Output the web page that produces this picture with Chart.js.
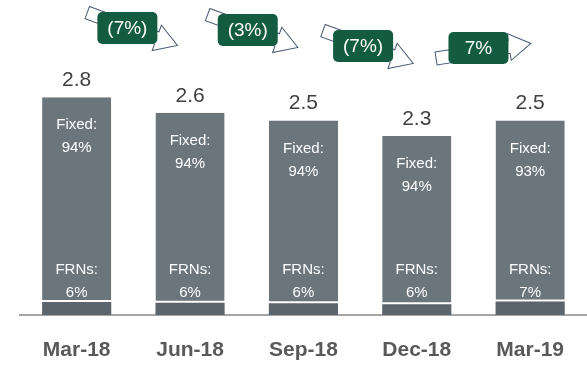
<!DOCTYPE html>
<html>
<head>
<meta charset="utf-8">
<script src="https://cdn.jsdelivr.net/npm/chart.js@4"></script>
<style>
  body { margin: 0; background: #fff; }
  #wrap { width: 587px; height: 365px; position: relative; }
</style>
</head>
<body>
<div id="wrap"><canvas id="debtChart"></canvas></div>
<script>
// quarter ends and total debt (bn)
const quarters = ['Mar-18', 'Jun-18', 'Sep-18', 'Dec-18', 'Mar-19'];
const totals = [2.8, 2.6, 2.5, 2.3, 2.5];
const fixedPct = [94, 94, 94, 94, 93];
const frnPct = [6, 6, 6, 6, 7];
// quarter on quarter change, shown between the bars
const changes = [-7, -3, -7, 7];

const frnValues = totals.map((t, i) => t * frnPct[i] / 100);
const fixedValues = totals.map((t, i) => t * fixedPct[i] / 100);

const FONT = '"Liberation Sans", Arial, sans-serif';

function roundRect(ctx, x, y, w, h, r) {
  ctx.beginPath();
  ctx.moveTo(x + r, y);
  ctx.arcTo(x + w, y, x + w, y + h, r);
  ctx.arcTo(x + w, y + h, x, y + h, r);
  ctx.arcTo(x, y + h, x, y, r);
  ctx.arcTo(x, y, x + w, y, r);
  ctx.closePath();
}

// outlined block arrow centred on (0,0), pointing right
function blockArrow(ctx, len, shaft, head, headLen) {
  const h = len / 2;
  ctx.beginPath();
  ctx.moveTo(-h, -shaft / 2);
  ctx.lineTo(h - headLen, -shaft / 2);
  ctx.lineTo(h - headLen, -head / 2);
  ctx.lineTo(h, 0);
  ctx.lineTo(h - headLen, head / 2);
  ctx.lineTo(h - headLen, shaft / 2);
  ctx.lineTo(-h, shaft / 2);
  ctx.closePath();
}

const labelsPlugin = {
  id: 'barLabels',
  afterDatasetsDraw(chart) {
    const ctx = chart.ctx;
    const fixedMeta = chart.getDatasetMeta(1);
    const base = chart.scales.y.getPixelForValue(0);
    ctx.save();
    ctx.textAlign = 'center';
    ctx.textBaseline = 'middle';
    fixedMeta.data.forEach((bar, i) => {
      // total above the bar
      ctx.fillStyle = '#404040';
      ctx.font = '21px ' + FONT;
      ctx.fillText(totals[i].toFixed(1), bar.x, bar.y - 17);
      // split labels inside
      ctx.fillStyle = '#ffffff';
      ctx.font = '15px ' + FONT;
      ctx.fillText('Fixed:', bar.x, bar.y + 28);
      ctx.fillText(fixedPct[i] + '%', bar.x, bar.y + 51);
      ctx.fillText('FRNs:', bar.x, base - 45);
      ctx.fillText(frnPct[i] + '%', bar.x, base - 22);
    });
    ctx.restore();
  },
  afterDraw(chart) {
    const ctx = chart.ctx;
    const xs = chart.scales.x;
    const boxY = [28, 30, 46, 48];
    const shiftX = [-6, 1, 3, 5];
    ctx.save();
    changes.forEach((c, i) => {
      const cx = (xs.getPixelForValue(i) + xs.getPixelForValue(i + 1)) / 2 + shiftX[i];
      const cy = boxY[i];
      // arrow behind the box
      ctx.save();
      if (c < 0) {
        ctx.translate(cx + 5, cy + 1);
        ctx.rotate(20 * Math.PI / 180);
      } else {
        ctx.translate(cx + 5, cy + 3);
        ctx.rotate(-9 * Math.PI / 180);
      }
      blockArrow(ctx, 96, 13, 27, 22);
      ctx.fillStyle = '#ffffff';
      ctx.fill();
      ctx.strokeStyle = '#4a5a72';
      ctx.lineWidth = 1;
      ctx.stroke();
      ctx.restore();
      // change box
      roundRect(ctx, cx - 30, cy - 16, 60, 32, 5);
      ctx.fillStyle = '#135c41';
      ctx.fill();
      ctx.fillStyle = '#ffffff';
      ctx.font = '19px ' + FONT;
      ctx.textAlign = 'center';
      ctx.textBaseline = 'middle';
      const txt = c < 0 ? '(' + Math.abs(c) + '%)' : c + '%';
      ctx.fillText(txt, cx, cy + 1);
    });
    ctx.restore();
  }
};

new Chart(document.getElementById('debtChart'), {
  type: 'bar',
  data: {
    labels: quarters,
    datasets: [
      {
        label: 'FRNs',
        data: frnValues,
        backgroundColor: '#5c656d',
        borderWidth: 0
      },
      {
        label: 'Fixed',
        data: fixedValues,
        backgroundColor: '#6a767b',
        borderColor: '#ffffff',
        borderWidth: { bottom: 2, top: 0, left: 0, right: 0 },
        borderSkipped: false
      }
    ]
  },
  options: {
    responsive: true,
    maintainAspectRatio: false,
    animation: false,
    layout: { padding: { left: 20, right: 0, top: 0, bottom: 0 } },
    datasets: { bar: { categoryPercentage: 1, barPercentage: 0.61 } },
    plugins: { legend: { display: false }, tooltip: { enabled: false } },
    scales: {
      x: {
        stacked: true,
        grid: { display: false, drawTicks: false },
        border: { display: true, color: '#a6a6a6', width: 2 },
        ticks: {
          padding: 23,
          color: '#595959',
          font: { family: FONT, size: 21, weight: 'bold' }
        },
        afterFit(scale) { scale.height = 50; }
      },
      y: {
        stacked: true,
        display: false,
        min: 0,
        max: 4.05
      }
    }
  },
  plugins: [labelsPlugin]
});
</script>
</body>
</html>
